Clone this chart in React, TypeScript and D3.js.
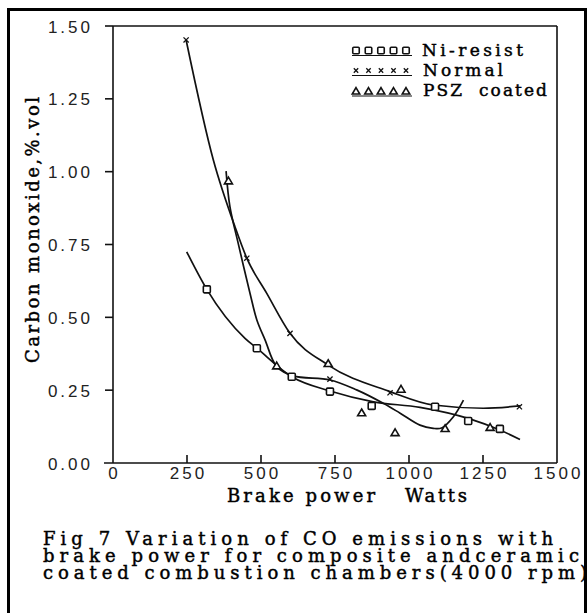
import React, { useRef, useEffect } from 'react';
import * as d3 from 'd3';

// measured points (brake power W, CO %vol)
const niResistPower = [317, 486, 604, 733, 874, 1088, 1200, 1307];
const niResistCO = [0.596, 0.394, 0.296, 0.245, 0.196, 0.193, 0.144, 0.117];

const normalPower = [247, 452, 598, 733, 936, 1373];
const normalCO = [1.452, 0.703, 0.445, 0.288, 0.241, 0.193];

const pszPower = [390, 553, 727, 840, 953, 973, 1122, 1274];
const pszCO = [0.969, 0.334, 0.342, 0.173, 0.105, 0.254, 0.119, 0.123];

// fitted curves as drawn in the figure
const niResistFitPower = [249, 317, 446, 486, 604, 733, 880, 1037, 1200, 1307, 1375];
const niResistFitCO = [0.725, 0.596, 0.428, 0.394, 0.296, 0.247, 0.21, 0.191, 0.153, 0.113, 0.081];

const normalFitPower = [247, 339, 412, 452, 519, 598, 727, 936, 1082, 1251, 1375];
const normalFitCO = [1.452, 1.04, 0.811, 0.703, 0.583, 0.445, 0.336, 0.245, 0.199, 0.188, 0.196];

const pszFitPower = [382, 395, 423, 463, 486, 514, 553, 609, 733, 823, 913, 970, 1037, 1082, 1110, 1150, 1184];
const pszFitCO = [1.002, 0.88, 0.754, 0.582, 0.491, 0.422, 0.331, 0.299, 0.285, 0.251, 0.205, 0.171, 0.13, 0.119, 0.12, 0.159, 0.216];

const xTicks = [0, 250, 500, 750, 1000, 1250, 1500];
const yTicks = [0, 0.25, 0.5, 0.75, 1.0, 1.25, 1.5];

const legendNames = ['Ni-resist', 'Normal', 'PSZ  coated'];
const captionLines = [
  'Fig 7 Variation of CO emissions with',
  'brake power for composite andceramic',
  'coated combustion chambers(4000 rpm)',
];

const serif = '"DejaVu Serif", serif';
const sans = '"Liberation Sans", Arial, sans-serif';

const App = () => {
  const svgRef = useRef<SVGSVGElement>(null);

  useEffect(() => {
    const svg = d3.select(svgRef.current);
    svg.selectAll('*').remove();

    const x = d3.scaleLinear().domain([0, 1500]).range([113, 557]);
    const y = d3.scaleLinear().domain([0, 1.5]).range([463, 26]);

    // outer frame
    svg.append('rect')
      .attr('x', 8.5).attr('y', 9.5)
      .attr('width', 577).attr('height', 620)
      .attr('fill', 'none').attr('stroke', '#000').attr('stroke-width', 3);

    // plot box
    const box = svg.append('g').attr('stroke', '#111').attr('stroke-width', 1.6).attr('fill', 'none');
    box.append('line').attr('x1', x(0)).attr('x2', x(0)).attr('y1', y(1.5)).attr('y2', y(0));
    box.append('line').attr('x1', x(0) - 9).attr('x2', x(1500)).attr('y1', y(0)).attr('y2', y(0));
    box.append('line').attr('x1', x(0)).attr('x2', x(1500)).attr('y1', y(1.5)).attr('y2', y(1.5));
    box.append('line').attr('x1', x(1500)).attr('x2', x(1500)).attr('y1', y(1.5)).attr('y2', y(0));

    // y ticks (outward) and labels
    yTicks.forEach(t => {
      if (t > 0) {
        box.append('line').attr('x1', x(0) - 8).attr('x2', x(0)).attr('y1', y(t)).attr('y2', y(t));
      }
      svg.append('text')
        .attr('x', 93).attr('y', y(t) + 6.5)
        .attr('text-anchor', 'end')
        .attr('font-family', sans).attr('font-size', 17)
        .attr('letter-spacing', 3).attr('fill', '#222')
        .text(t.toFixed(2));
    });

    // x ticks (inward) and labels
    xTicks.forEach(t => {
      if (t > 0 && t < 1500) {
        box.append('line').attr('x1', x(t)).attr('x2', x(t)).attr('y1', y(0)).attr('y2', y(0) - 8);
      }
      svg.append('text')
        .attr('x', x(t) + 1.5).attr('y', 478.5)
        .attr('text-anchor', 'middle')
        .attr('font-family', sans).attr('font-size', 17)
        .attr('letter-spacing', 3).attr('fill', '#222')
        .text(String(t));
    });

    // serif text helper with a slight stroke to mimic the heavy print
    const serifText = (tx, ty, size, len, str) => svg.append('text')
      .attr('x', tx).attr('y', ty)
      .attr('font-family', serif).attr('font-size', size)
      .attr('fill', '#000').attr('stroke', '#000').attr('stroke-width', 0.45)
      .attr('textLength', len).attr('lengthAdjust', 'spacing')
      .attr('xml:space', 'preserve')
      .text(str);

    // axis titles
    serifText(227, 502, 18, 148, 'Brake power');
    serifText(405, 502, 18, 62, 'Watts');
    serifText(0, 0, 18, 266, 'Carbon monoxide,%.vol')
      .attr('x', null).attr('y', null)
      .attr('transform', 'translate(39,230) rotate(-90)')
      .attr('text-anchor', 'middle');

    // fitted curves
    const smooth = d3.line<[number, number]>()
      .x(d => x(d[0]))
      .y(d => y(d[1]))
      .curve(d3.curveMonotoneX);
    const wavy = d3.line<[number, number]>()
      .x(d => x(d[0]))
      .y(d => y(d[1]))
      .curve(d3.curveCatmullRom.alpha(0.5));

    const curves: [number[], number[], any][] = [
      [niResistFitPower, niResistFitCO, smooth],
      [normalFitPower, normalFitCO, smooth],
      [pszFitPower, pszFitCO, wavy],
    ];
    curves.forEach(([px, py, gen]) => {
      svg.append('path')
        .datum(px.map((v, i) => [v, py[i]] as [number, number]))
        .attr('fill', 'none').attr('stroke', '#111').attr('stroke-width', 1.7)
        .attr('d', gen);
    });

    // marker drawers
    const marks = svg.append('g').attr('fill', '#fff').attr('stroke', '#111').attr('stroke-width', 1.6);
    const square = (g, cx, cy, s = 7) => g.append('rect')
      .attr('x', cx - s / 2).attr('y', cy - s / 2).attr('width', s).attr('height', s).attr('rx', 1);
    const tri = (g, cx, cy, s = 8) => g.append('path')
      .attr('d', `M${cx},${cy - s * 0.45}L${cx + s / 2},${cy + s * 0.4}L${cx - s / 2},${cy + s * 0.4}Z`);
    const cross = (g, cx, cy, s = 2.6) => g.append('path')
      .attr('fill', 'none').attr('stroke-width', 1.3)
      .attr('d', `M${cx - s},${cy - s}L${cx + s},${cy + s}M${cx - s},${cy + s}L${cx + s},${cy - s}`);

    niResistPower.forEach((p, i) => square(marks, x(p), y(niResistCO[i])));
    normalPower.forEach((p, i) => cross(marks, x(p), y(normalCO[i])));
    pszPower.forEach((p, i) => tri(marks, x(p), y(pszCO[i])));

    // legend
    const legendY = [50.5, 70.5, 91];
    const drawers = [square, cross, tri];
    const legendText = [[422, 56, 101], [423, 76, 80], [423, 96, 124]];
    legendNames.forEach((name, r) => {
      for (let k = 0; k < 5; k++) {
        drawers[r](marks, 356 + k * 12.5, legendY[r], r === 0 ? 6.5 : r === 1 ? 2.2 : 7.5);
      }
      svg.append('line')
        .attr('x1', 352).attr('x2', 412)
        .attr('y1', legendY[r] + 5).attr('y2', legendY[r] + 5)
        .attr('stroke', '#111').attr('stroke-width', 1.2);
      serifText(legendText[r][0], legendText[r][1], 17, legendText[r][2], name);
    });

    // caption
    const capW = [510, 536, 544];
    const capY = [545, 562, 578.5];
    captionLines.forEach((c, i) => serifText(43, capY[i], 18, capW[i], c));
  }, []);

  return (
    <svg
      ref={svgRef}
      width={587}
      height={613}
      style={{ position: 'absolute', left: 0, top: 0, background: '#fff' }}
    />
  );
};

export default App;
